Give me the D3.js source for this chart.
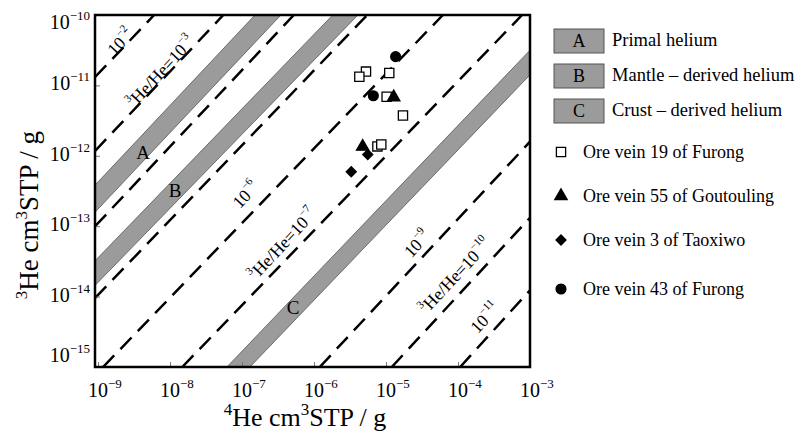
<!DOCTYPE html>
<html>
<head>
<meta charset="utf-8">
<script src="https://cdn.jsdelivr.net/npm/d3@7"></script>
<style>
body { margin: 0; background: #fff; }
svg { font-family: "Liberation Serif", "Times New Roman", serif; }
</style>
</head>
<body>
<svg id="chart" width="797" height="433"></svg>
<script>
// decade ticks (log10 exponents)
var xTicks = [-9, -8, -7, -6, -5, -4, -3];
var yTicks = [-15, -14, -13, -12, -11, -10];

// samples: [4He, 3He] in cm3STP/g
var vein19Furong = [[5.27e-6, 1.57e-11], [4.26e-6, 1.33e-11], [1.11e-5, 1.50e-11], [1.02e-5, 6.9e-12],
                    [1.72e-5, 3.73e-12], [7.6e-6, 1.36e-12], [8.6e-6, 1.45e-12]];
var vein55Goutouling = [[1.28e-5, 6.8e-12], [4.74e-6, 1.35e-12]];
var vein3Taoxiwo = [[5.58e-6, 1.04e-12], [3.29e-6, 5.94e-13]];
var vein43Furong = [[1.36e-5, 2.56e-11], [6.67e-6, 7.14e-12]];

// dashed 3He/4He lines, end points as log10 [4He, 3He]
var ratioLines = [
  [[-9.04, -10.88], [-8.22, -10]],
  [[-9.04, -11.93], [-7.26, -10]],
  [[-9.04, -13.00], [-6.28, -10]],
  [[-9.04, -14.02], [-5.26, -10]],
  [[-8.93, -15], [-4.21, -10]],
  [[-7.83, -15], [-3.11, -10]],
  [[-5.92, -15], [-3, -11.80]],
  [[-4.92, -15], [-3, -12.88]],
  [[-3.97, -15], [-3, -13.91]]
];

// helium source bands, corner points as log10 [4He, 3He]
var bandNames = ["A", "B", "C"];
var bandCorners = [
  [[-9.04, -12.415], [-6.82, -10], [-6.46, -10], [-9.04, -12.80]],
  [[-9.04, -13.49], [-5.74, -10], [-5.39, -10], [-9.04, -13.84]],
  [[-7.21, -15], [-3, -10.50], [-3, -10.85], [-6.89, -15]]
];
var bandLabelPos = [[-8.375, -11.95], [-7.93, -12.49], [-6.29, -14.15]];
var legendBandText = ["Primal helium", "Mantle \u2013 derived helium", "Crust \u2013 derived helium"];

// ratio labels: [prefix, exponent, log10 position]
var ratioLabels = [
  [false, "\u22122", [-8.69, -10.38]],
  [true, "\u22123", [-8.13, -10.80]],
  [false, "\u22126", [-6.95, -12.55]],
  [true, "\u22127", [-6.44, -13.25]],
  [false, "\u22129", [-4.57, -13.25]],
  [true, "\u221210", [-4.04, -13.70]],
  [false, "\u221211", [-3.625, -14.30]]
];

var seriesNames = ["Ore vein 19 of Furong", "Ore vein 55 of Goutouling", "Ore vein 3 of Taoxiwo", "Ore vein 43 of Furong"];

(function() {
var p = function(e) { return Math.pow(10, e); };

var svg = d3.select("#chart");
var mLeft = 95, mRight = 530, mTop = 15, mBottom = 367;

var x = d3.scaleLog().domain([p(-9.042), p(-3)]).range([mLeft, mRight]);
var y = d3.scaleLog().domain([p(-15), p(-10)]).range([mBottom, mTop]);

svg.append("clipPath").attr("id", "plotclip").append("rect")
  .attr("x", mLeft).attr("y", mTop).attr("width", mRight - mLeft).attr("height", mBottom - mTop);

var plot = svg.append("g").attr("clip-path", "url(#plotclip)");

var lineGen = d3.line().x(function(d) { return x(p(d[0])); }).y(function(d) { return y(p(d[1])); });

plot.selectAll(".band").data(bandCorners).enter().append("path")
  .attr("d", function(d) { return lineGen(d) + "Z"; })
  .attr("fill", "#9b9b9b").attr("stroke", "#555").attr("stroke-width", 0.8);

plot.selectAll(".ratio").data(ratioLines).enter().append("path")
  .attr("d", lineGen)
  .attr("fill", "none").attr("stroke", "#000").attr("stroke-width", 2.5)
  .attr("stroke-dasharray", "16,9");

// band letters
svg.selectAll(".bandlbl").data(bandLabelPos).enter().append("text")
  .attr("x", function(d) { return x(p(d[0])); })
  .attr("y", function(d) { return y(p(d[1])); })
  .attr("text-anchor", "middle").attr("dominant-baseline", "central")
  .attr("font-size", 19)
  .text(function(d, i) { return bandNames[i]; });

// ratio labels along lines
ratioLabels.forEach(function(r) {
  var t = svg.append("text")
    .attr("transform", "translate(" + x(p(r[2][0])) + "," + y(p(r[2][1])) + ") rotate(-47)")
    .attr("text-anchor", "middle").attr("dominant-baseline", "central")
    .attr("font-size", 17.5);
  if (r[0]) {
    t.append("tspan").attr("font-size", 11).attr("dy", -6).text("3");
    t.append("tspan").attr("dy", 6).text("He/He=10");
  } else {
    t.append("tspan").text("10");
  }
  t.append("tspan").attr("font-size", 11).attr("dy", -7).text(r[1]);
});

// axes, ticks pointing inward
svg.append("g").attr("transform", "translate(0," + mBottom + ")")
  .call(d3.axisBottom(x).tickValues(xTicks.map(p)).tickSize(-5).tickFormat(""));
svg.append("g").attr("transform", "translate(" + mLeft + ",0)")
  .call(d3.axisLeft(y).tickValues(yTicks.map(p)).tickSize(-5).tickFormat(""));
svg.selectAll(".domain").remove();
svg.selectAll(".tick line").attr("stroke", "#777").attr("stroke-width", 1);

svg.append("rect").attr("x", mLeft).attr("y", mTop)
  .attr("width", mRight - mLeft).attr("height", mBottom - mTop)
  .attr("fill", "none").attr("stroke", "#000").attr("stroke-width", 2.5);

xTicks.forEach(function(e) {
  var t = svg.append("text").attr("x", x(p(e)) - 10).attr("y", 397).attr("font-size", 20);
  t.append("tspan").text("10");
  t.append("tspan").attr("font-size", 13).attr("dy", -9).text("\u2212" + (-e));
});
yTicks.forEach(function(e) {
  var yy = Math.min(Math.max(y(p(e)) + 5, 29), 362);
  var t = svg.append("text").attr("x", 90).attr("y", yy).attr("font-size", 20).attr("text-anchor", "end");
  t.append("tspan").text("10");
  t.append("tspan").attr("font-size", 13).attr("dy", -9).text("\u2212" + (-e));
});

// axis titles
var xt = svg.append("text").attr("x", 305).attr("y", 426).attr("text-anchor", "middle").attr("font-size", 26);
xt.append("tspan").attr("font-size", 17).attr("dy", -11).text("4");
xt.append("tspan").attr("dy", 11).text("He cm");
xt.append("tspan").attr("font-size", 17).attr("dy", -11).text("3");
xt.append("tspan").attr("dy", 11).text("STP / g");

var yt = svg.append("text").attr("transform", "translate(38,215) rotate(-90)").attr("text-anchor", "middle").attr("font-size", 27);
yt.append("tspan").attr("font-size", 17).attr("dy", -11).text("3");
yt.append("tspan").attr("dy", 11).text("He cm");
yt.append("tspan").attr("font-size", 17).attr("dy", -11).text("3");
yt.append("tspan").attr("dy", 11).text("STP / g");

// sample markers
var groups = [
  {data: vein19Furong, type: d3.symbolSquare, size: 85, fill: "#fff", rot: 0},
  {data: vein55Goutouling, type: d3.symbolTriangle, size: 66, fill: "#000", rot: 0},
  {data: vein3Taoxiwo, type: d3.symbolSquare, size: 50, fill: "#000", rot: 45},
  {data: vein43Furong, type: d3.symbolCircle, size: 76, fill: "#000", rot: 0}
];
groups.forEach(function(g) {
  svg.selectAll(null).data(g.data).enter().append("path")
    .attr("d", d3.symbol().type(g.type).size(g.size))
    .attr("transform", function(d) { return "translate(" + x(d[0]) + "," + y(d[1]) + ") rotate(" + g.rot + ")"; })
    .attr("fill", g.fill).attr("stroke", "#000").attr("stroke-width", 1.3);
});

// legend
var bandRowY = [41, 76, 111];
bandRowY.forEach(function(ry, i) {
  svg.append("rect").attr("x", 554).attr("y", ry - 12).attr("width", 50).attr("height", 24)
    .attr("fill", "#9b9b9b").attr("stroke", "#555").attr("stroke-width", 1);
  svg.append("text").attr("x", 579).attr("y", ry + 6).attr("text-anchor", "middle").attr("font-size", 18).text(bandNames[i]);
  svg.append("text").attr("x", 612).attr("y", ry + 5).attr("font-size", 18.5).text(legendBandText[i]);
});
var markRowY = [152, 196, 240, 289];
markRowY.forEach(function(ry, i) {
  var g = groups[i];
  svg.append("path").attr("d", d3.symbol().type(g.type).size(g.size))
    .attr("transform", "translate(561," + ry + ") rotate(" + g.rot + ")")
    .attr("fill", g.fill).attr("stroke", "#000").attr("stroke-width", 1.3);
  svg.append("text").attr("x", 583).attr("y", ry + 6).attr("font-size", 18).text(seriesNames[i]);
});
})();
</script>
</body>
</html>
